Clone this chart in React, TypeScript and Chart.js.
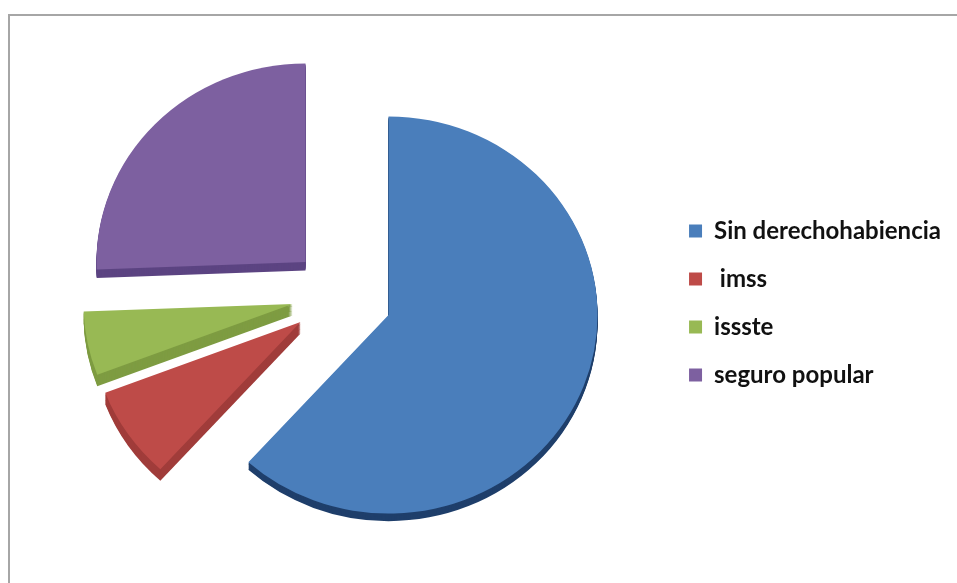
import React, { useEffect, useRef } from "react";
import { Chart, registerables } from "chart.js";

Chart.register(...registerables);

const categories = ["Sin derechohabiencia", " imss", "issste", "seguro popular"];
const shares = [61.7, 7.5, 5.2, 25.6];
const faceColors = ["#4a7ebb", "#be4b48", "#98b954", "#7d60a0"];
const rimColors = ["#1f3f6b", "#a03c3a", "#7e9c42", "#5c4482"];
const rimDepths = [8, 12, 12, 9];
// How far each slice is pulled away from the pie's centre, in pixels.
const pullX = [56, -32, -40, -27];
const pullY = [12, 19, 1, -41];
const tilt = 0.95;

// Pulls the slices apart and gives the pie its tilted, extruded look.
const solidPie = {
  id: "solidPie",
  afterDatasetsUpdate(chart: any) {
    chart.getDatasetMeta(0).data.forEach((arc: any, i: number) => {
      arc.x += pullX[i];
      arc.y += pullY[i] / tilt;
    });
  },
  beforeDatasetsDraw(chart: any) {
    const { ctx, chartArea } = chart;
    const cy = (chartArea.top + chartArea.bottom) / 2;
    ctx.save();
    ctx.translate(0, cy);
    ctx.scale(1, tilt);
    ctx.translate(0, -cy);
    chart.getDatasetMeta(0).data.forEach((arc: any, i: number) => {
      ctx.fillStyle = rimColors[i];
      for (let d = rimDepths[i]; d > 0; d--) {
        ctx.beginPath();
        ctx.moveTo(arc.x, arc.y + d);
        ctx.arc(arc.x, arc.y + d, arc.outerRadius, arc.startAngle, arc.endAngle);
        ctx.closePath();
        ctx.fill();
      }
    });
  },
  afterDatasetsDraw(chart: any) {
    chart.ctx.restore();
  },
};

export default function App() {
  const ref = useRef<HTMLCanvasElement>(null);

  useEffect(() => {
    document.body.style.margin = "0";
    document.body.style.background = "#fff";
    const chart = new Chart(ref.current!, {
      type: "pie",
      data: {
        labels: categories,
        datasets: [{ data: shares, backgroundColor: faceColors, borderWidth: 0 }],
      },
      options: {
        responsive: false,
        animation: false,
        events: [],
        radius: 209,
        layout: { padding: { top: 23, right: 6 } },
        plugins: {
          tooltip: { enabled: false },
          legend: {
            position: "right",
            labels: {
              boxWidth: 13,
              boxHeight: 13,
              padding: 24,
              color: "#111",
              font: { family: "Lato", size: 24, weight: "bold" },
            },
          },
        },
      },
      plugins: [solidPie],
    } as any);
    return () => chart.destroy();
  }, []);

  return (
    <div style={{ position: "relative", width: 957, height: 583, background: "#fff" }}>
      <canvas ref={ref} width={957} height={583} style={{ display: "block" }} />
      <div
        style={{
          position: "absolute",
          left: 8,
          top: 14,
          right: 0,
          bottom: 0,
          borderTop: "2px solid #a6a6a6",
          borderLeft: "2px solid #a6a6a6",
          pointerEvents: "none",
        }}
      />
    </div>
  );
}
